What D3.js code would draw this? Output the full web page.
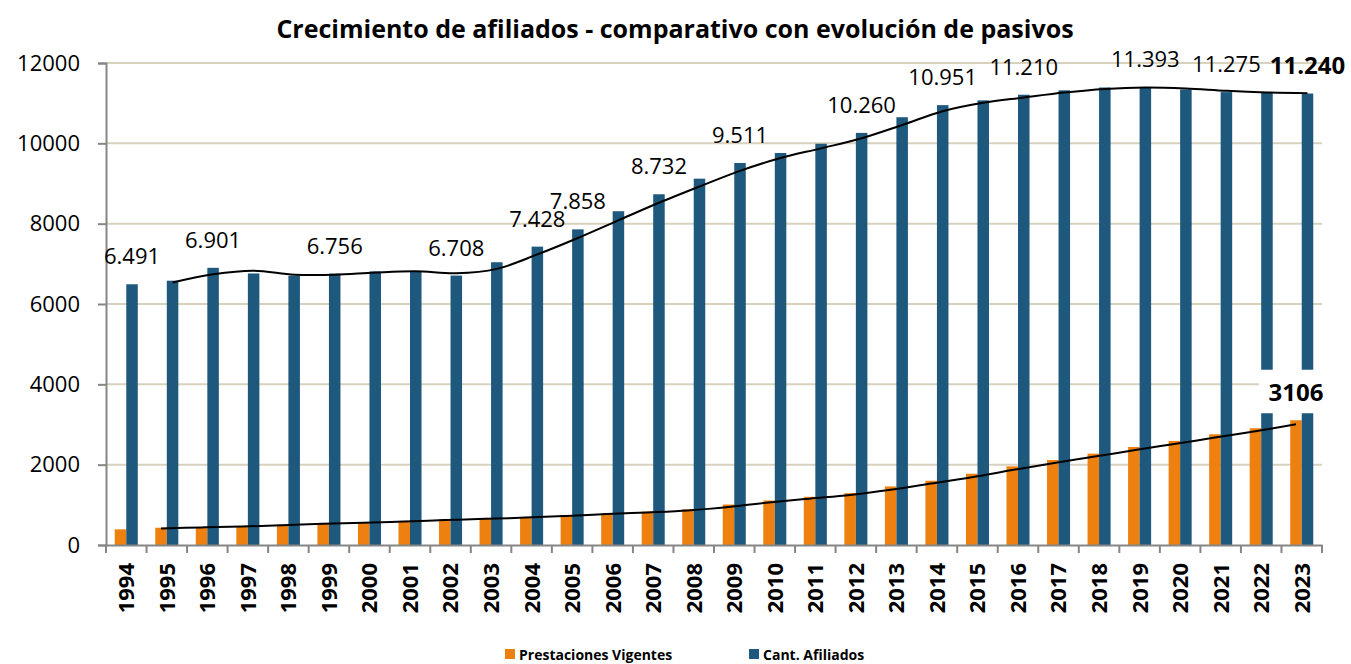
<!DOCTYPE html>
<html>
<head>
<meta charset="utf-8">
<script src="https://cdn.jsdelivr.net/npm/d3@7"></script>
<style>
  html, body { margin: 0; padding: 0; background: #fff; }
  svg { display: block; font-family: 'Open Sans', sans-serif; }
</style>
</head>
<body>
<svg id="chart" width="1351" height="664"></svg>
<script>
const years = ['1994', '1995', '1996', '1997', '1998', '1999', '2000', '2001', '2002', '2003',
  '2004', '2005', '2006', '2007', '2008', '2009', '2010', '2011', '2012', '2013',
  '2014', '2015', '2016', '2017', '2018', '2019', '2020', '2021', '2022', '2023'];

const prestaciones = [390, 430, 445, 474, 507, 549, 565, 599, 640, 665,
  699, 748, 790, 832, 890, 1008, 1108, 1200, 1291, 1458,
  1600, 1775, 1958, 2116, 2274, 2441, 2591, 2757, 2907, 3106];

const afiliados = [6491, 6580, 6901, 6760, 6700, 6756, 6810, 6820, 6708, 7040,
  7428, 7858, 8310, 8732, 9120, 9511, 9760, 9990, 10260, 10650,
  10951, 11070, 11210, 11320, 11390, 11393, 11340, 11275, 11260, 11240];

// años con etiqueta de dato en la serie de afiliados
const labeledYears = ['1994', '1996', '1999', '2002', '2004', '2005', '2007', '2009',
  '2012', '2014', '2016', '2019', '2021', '2023'];

const yTicks = [0, 2000, 4000, 6000, 8000, 10000, 12000];

const seriesNames = ['Prestaciones Vigentes', 'Cant. Afiliados'];
const colors = { prest: '#EE800F', afil: '#1E587D' };

const plot = { left: 106, right: 1322, top: 63, bottom: 545 };

const svg = d3.select('#chart');
const esFormat = d3.formatLocale({ decimal: ',', thousands: '.', grouping: [3], currency: ['', ''] }).format(',d');

const x = d3.scaleBand().domain(years).range([plot.left, plot.right]).padding(0);
const xSub = d3.scaleBand().domain(['prest', 'afil']).range([0, x.bandwidth()]).paddingInner(0).paddingOuter(0.76);
const y = d3.scaleLinear().domain([0, 12000]).range([plot.bottom, plot.top]);

// gridlines
svg.append('g')
  .selectAll('line')
  .data(yTicks.filter((t) => t > 0))
  .join('line')
  .attr('x1', plot.left)
  .attr('x2', plot.right)
  .attr('y1', (d) => y(d))
  .attr('y2', (d) => y(d))
  .attr('stroke', '#D8D1BE')
  .attr('stroke-width', 2);

// bars
const rows = years.map((year, i) => ({ year, prest: prestaciones[i], afil: afiliados[i] }));

['prest', 'afil'].forEach((key) => {
  svg.append('g')
    .selectAll('rect')
    .data(rows)
    .join('rect')
    .attr('x', (d) => x(d.year) + xSub(key))
    .attr('y', (d) => y(d[key]))
    .attr('width', xSub.bandwidth())
    .attr('height', (d) => y(0) - y(d[key]))
    .attr('fill', colors[key]);
});

// y axis
const yAxis = svg.append('g')
  .attr('transform', `translate(${plot.left},0)`)
  .call(d3.axisLeft(y).tickValues(yTicks).tickSize(8).tickPadding(18).tickFormat(d3.format('d')));
yAxis.select('.domain').attr('stroke', '#868686').attr('stroke-width', 2);
yAxis.selectAll('.tick line').attr('stroke', '#868686').attr('stroke-width', 2);
yAxis.selectAll('.tick text').attr('font-size', 22).attr('fill', '#000').attr('font-family', 'Open Sans');

// x axis
const xAxis = svg.append('g')
  .attr('transform', `translate(0,${plot.bottom})`)
  .call(d3.axisBottom(x).tickSize(0).tickPadding(0));
xAxis.select('.domain').attr('stroke', '#868686').attr('stroke-width', 2);
xAxis.selectAll('.tick text')
  .attr('transform', 'rotate(-90)')
  .attr('x', -18)
  .attr('y', 0)
  .attr('dy', '0.36em')
  .attr('text-anchor', 'end')
  .attr('font-size', 22)
  .attr('font-weight', 'bold')
  .attr('font-family', 'Open Sans')
  .attr('fill', '#000');
xAxis.append('g')
  .selectAll('line')
  .data([...years.map((d) => x(d)), plot.right])
  .join('line')
  .attr('x1', (d) => d)
  .attr('x2', (d) => d)
  .attr('y1', 0)
  .attr('y2', 8)
  .attr('stroke', '#868686')
  .attr('stroke-width', 2);

// trend lines: media móvil de 2 periodos
['prest', 'afil'].forEach((key) => {
  const avg = rows.slice(1).map((d, i) => ({ year: d.year, value: (rows[i][key] + d[key]) / 2 }));
  const line = d3.line()
    .x((d) => x(d.year) + xSub(key) + xSub.bandwidth() / 2)
    .y((d) => y(d.value))
    .curve(d3.curveCatmullRom.alpha(0.5));
  svg.append('path')
    .datum(avg)
    .attr('d', line)
    .attr('fill', 'none')
    .attr('stroke', '#000')
    .attr('stroke-width', 2);
});

// etiquetas de afiliados
const lastYear = years[years.length - 1];
svg.append('g')
  .selectAll('text')
  .data(rows.filter((d) => labeledYears.includes(d.year)))
  .join('text')
  .attr('x', (d) => x(d.year) + xSub('afil') + xSub.bandwidth() / 2)
  .attr('y', (d) => y(d.afil) - 20)
  .attr('text-anchor', 'middle')
  .attr('font-size', (d) => (d.year === lastYear ? 24 : 22))
  .attr('font-weight', (d) => (d.year === lastYear ? 'bold' : 'normal'))
  .attr('fill', '#000')
  .text((d) => esFormat(d.afil));

// etiqueta final de prestaciones con fondo blanco
const last = rows[rows.length - 1];
const lx = x(last.year) + xSub('prest') + xSub.bandwidth() / 2;
const ly = y(last.prest) - 19;
svg.append('rect')
  .attr('x', lx - 37)
  .attr('y', ly - 31.5)
  .attr('width', 76)
  .attr('height', 43.5)
  .attr('fill', '#fff');
svg.append('text')
  .attr('x', lx)
  .attr('y', ly)
  .attr('text-anchor', 'middle')
  .attr('font-size', 24)
  .attr('font-weight', 'bold')
  .attr('fill', '#000')
  .text(last.prest);

// título
svg.append('text')
  .attr('x', 675)
  .attr('y', 38)
  .attr('text-anchor', 'middle')
  .attr('font-size', 25)
  .attr('font-weight', 'bold')
  .attr('fill', '#000')
  .text('Crecimiento de afiliados - comparativo con evolución de pasivos');

// leyenda
const legendItems = [
  { name: seriesNames[0], color: colors.prest, x: 505 },
  { name: seriesNames[1], color: colors.afil, x: 749 }
];
const legend = svg.append('g').attr('transform', 'translate(0,649)');
legendItems.forEach((item) => {
  legend.append('rect')
    .attr('x', item.x)
    .attr('y', 0)
    .attr('width', 10)
    .attr('height', 10)
    .attr('fill', item.color);
  legend.append('text')
    .attr('x', item.x + 14)
    .attr('y', 10.5)
    .attr('font-size', 14)
    .attr('font-weight', 'bold')
    .attr('fill', '#000')
    .text(item.name);
});
</script>
</body>
</html>
